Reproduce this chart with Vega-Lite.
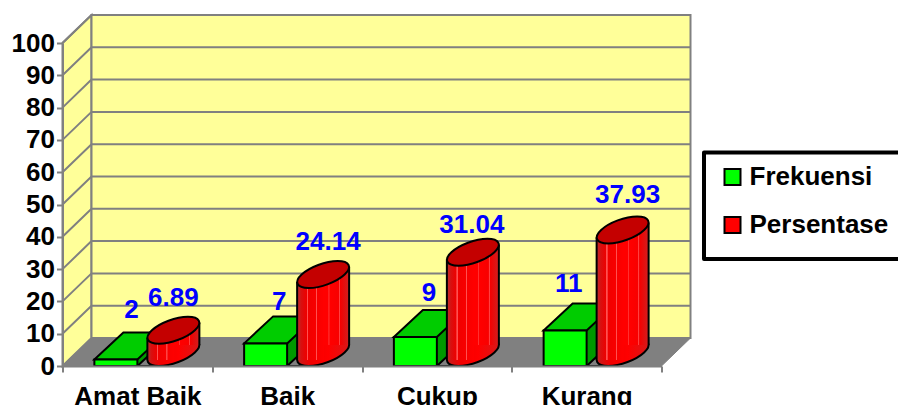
{
"$schema":"https://vega.github.io/schema/vega-lite/v6.json",
"width":599,"height":323,
"autosize":{"type":"none"},
"padding":{"left":62.5,"top":43,"right":236.5,"bottom":39},
"background":"white",
"config":{"view":{"stroke":null},"font":"Liberation Sans","text":{"font":"Liberation Sans"}},
"datasets":{
"rows":[
{"category":"Amat Baik","series":"Frekuensi","value":2},
{"category":"Baik","series":"Frekuensi","value":7},
{"category":"Cukup","series":"Frekuensi","value":9},
{"category":"Kurang","series":"Frekuensi","value":11},
{"category":"Amat Baik","series":"Persentase","value":6.89},
{"category":"Baik","series":"Persentase","value":24.14},
{"category":"Cukup","series":"Persentase","value":31.04},
{"category":"Kurang","series":"Persentase","value":37.93}
],
"ticks":[{"value":10},{"value":20},{"value":30},{"value":40},{"value":50},{"value":60},{"value":70},{"value":80},{"value":90},{"value":100}],
"base":[{"value":0}]
},
"encoding":{
"x":{"field":"category","type":"nominal","sort":null,"title":null,
 "scale":{"domain":["Amat Baik","Baik","Cukup","Kurang"],"paddingInner":0,"paddingOuter":0},
 "axis":{"labelAngle":0,"tickBand":"extent","domainColor":"#808080","domainWidth":2,"tickColor":"#808080","tickWidth":2,"tickSize":6,"labelFontSize":26,"labelFontWeight":"bold","labelColor":"black","labelFont":"Liberation Sans","labelPadding":11,"labelDx":-1,"zindex":1}},
"y":{"field":"value","type":"quantitative","title":null,
 "scale":{"domain":[0,100],"nice":false},
 "axis":{"values":[0,10,20,30,40,50,60,70,80,90,100],"grid":false,"domainColor":"#808080","domainWidth":2,"tickColor":"#808080","tickWidth":2,"tickSize":6,"labelFontSize":26,"labelFontWeight":"bold","labelColor":"black","labelFont":"Liberation Sans","labelPadding":2,"zindex":1}}
},
"layer":[
{"data":{"name":"base"},"mark":{"type":"point","shape":"M0,0 L29,-28 V-351 L0,-323 Z","size":4,"filled":true,"fill":"#ffff99","stroke":"#808080","strokeWidth":2,"opacity":1},
 "encoding":{"x":{"datum":"Amat Baik","bandPosition":0}}},
{"data":{"name":"base"},"mark":{"type":"point","shape":"M29,-28 H628 V-351 H29 Z","size":4,"filled":true,"fill":"#ffff99","stroke":"#808080","strokeWidth":2,"opacity":1},
 "encoding":{"x":{"datum":"Amat Baik","bandPosition":0}}},
{"data":{"name":"ticks"},"mark":{"type":"point","shape":"M0,0 L29,-28 H628","size":4,"filled":false,"stroke":"#808080","strokeWidth":2,"opacity":1},
 "encoding":{"x":{"datum":"Amat Baik","bandPosition":0}}},
{"data":{"name":"base"},"mark":{"type":"point","shape":"M0,0 L29,-28 H628 V-28 L599,0 Z","size":4,"filled":true,"fill":"#808080","stroke":"#808080","strokeWidth":1,"opacity":1},
 "encoding":{"x":{"datum":"Amat Baik","bandPosition":0}}},
{"data":{"name":"base"},"mark":{"type":"point","shape":"M641.5,-213.5 H860 V-107 H641.5 Z","size":4,"filled":true,"fill":"white","stroke":"black","strokeWidth":4,"strokeJoin":"round","opacity":1},
 "encoding":{"x":{"datum":"Amat Baik","bandPosition":0}}},

{"data":{"name":"rows"},"transform":[{"filter":"datum.series==='Frekuensi'"}],
 "mark":{"type":"bar","width":12,"xOffset":6,"yOffset":-27,"fill":"#009900"},
 "encoding":{"y2":{"datum":0}}},
{"data":{"name":"rows"},"transform":[{"filter":"datum.series==='Frekuensi'"}],
 "mark":{"type":"point","shape":"M0,0 L29,-27 V0 Z","size":4,"filled":true,"fill":"#808080","stroke":"black","strokeWidth":2,"opacity":1},
 "encoding":{"y":{"datum":0}}},
{"data":{"name":"rows"},"transform":[{"filter":"datum.series==='Frekuensi'"}],
 "mark":{"type":"point","shape":"M-43,0 L-14,-27 H29 L0,0 Z","size":4,"filled":true,"fill":"#00cc00","stroke":"black","strokeWidth":2,"opacity":1}},
{"data":{"name":"rows"},"transform":[{"filter":"datum.series==='Frekuensi'"}],
 "mark":{"type":"bar","width":43,"xOffset":-21.5,"stroke":"black","strokeWidth":2},
 "encoding":{"y2":{"datum":0},
  "color":{"field":"series","type":"nominal","scale":{"domain":["Frekuensi","Persentase"],"range":["#00ff00","#ff0000"]},
   "legend":{"title":null,"orient":"none","legendX":657,"legendY":121,"padding":0,"symbolType":"square","symbolSize":256,"symbolStrokeColor":"black","symbolStrokeWidth":2,"symbolOpacity":1,"labelFontSize":26,"labelFontWeight":"bold","labelColor":"black","labelFont":"Liberation Sans","labelOffset":4,"rowPadding":22,"labelLimit":300}}}},

{"data":{"name":"rows"},"transform":[{"filter":"datum.series==='Persentase'"}],
 "mark":{"type":"point","shape":"M21.5,0 C29.51,-7.46 26.37,-13.5 14.5,-13.5 C2.63,-13.5 -13.49,-7.46 -21.5,0 C-29.51,7.46 -26.37,13.5 -14.5,13.5 C-2.63,13.5 13.49,7.46 21.5,0 Z","size":4,"filled":true,"xOffset":36,"yOffset":-13.5,"stroke":"black","strokeWidth":2,"opacity":1,
  "fill":{"gradient":"linear","x1":0,"x2":1,"y1":0,"y2":0,"stops":[{"offset":0,"color":"#c02020"},{"offset":0.25,"color":"#f00000"},{"offset":0.6,"color":"#ff0000"},{"offset":1,"color":"#d81818"}]}},
 "encoding":{"y":{"datum":0}}},
{"data":{"name":"rows"},"transform":[{"filter":"datum.series==='Persentase'"}],
 "mark":{"type":"bar","width":27,"xOffset":23.5,"yOffset":-6,"y2Offset":-6,
  "fill":{"gradient":"linear","x1":0,"x2":1,"y1":0,"y2":0,"stops":[{"offset":0,"color":"#b83030"},{"offset":0.15,"color":"#d81010"},{"offset":0.35,"color":"#ee0000"},{"offset":0.36,"color":"#ff5050"},{"offset":0.4,"color":"#ff5050"},{"offset":0.41,"color":"#f00000"},{"offset":0.7,"color":"#f80000"},{"offset":0.71,"color":"#ff5050"},{"offset":0.74,"color":"#ff5050"},{"offset":0.75,"color":"#f80000"},{"offset":1,"color":"#ff0000"}]}},
 "encoding":{"y2":{"datum":0}}},
{"data":{"name":"rows"},"transform":[{"filter":"datum.series==='Persentase'"}],
 "mark":{"type":"bar","width":26,"xOffset":49,"yOffset":-21,"y2Offset":-21,
  "fill":{"gradient":"linear","x1":0,"x2":1,"y1":0,"y2":0,"stops":[{"offset":0,"color":"#ff0000"},{"offset":0.2,"color":"#ff0000"},{"offset":0.21,"color":"#ff3030"},{"offset":0.24,"color":"#ff3030"},{"offset":0.25,"color":"#ff0000"},{"offset":0.6,"color":"#f80000"},{"offset":0.61,"color":"#ff4040"},{"offset":0.64,"color":"#ff4040"},{"offset":0.65,"color":"#f40000"},{"offset":1,"color":"#d02020"}]}},
 "encoding":{"y2":{"datum":0}}},
{"data":{"name":"rows"},"transform":[{"filter":"datum.series==='Persentase'"}],
 "mark":{"type":"rule","stroke":"black","strokeWidth":2,"xOffset":10,"yOffset":-6,"y2Offset":-6},
 "encoding":{"y2":{"datum":0}}},
{"data":{"name":"rows"},"transform":[{"filter":"datum.series==='Persentase'"}],
 "mark":{"type":"rule","stroke":"black","strokeWidth":2,"xOffset":62,"yOffset":-21,"y2Offset":-21},
 "encoding":{"y2":{"datum":0}}},
{"data":{"name":"rows"},"transform":[{"filter":"datum.series==='Persentase'"}],
 "mark":{"type":"point","shape":"M21.5,0 C29.51,-7.46 26.37,-13.5 14.5,-13.5 C2.63,-13.5 -13.49,-7.46 -21.5,0 C-29.51,7.46 -26.37,13.5 -14.5,13.5 C-2.63,13.5 13.49,7.46 21.5,0 Z","size":4,"filled":true,"fill":"#c40000","xOffset":36,"yOffset":-13.5,"stroke":"black","strokeWidth":2,"opacity":1}},

{"data":{"name":"rows"},
 "encoding":{"text":{"field":"value","type":"quantitative"}},
 "layer":[
 {"transform":[{"filter":"datum.value===2 && datum.series==='Frekuensi'"}],"mark":{"type":"text","fontSize":26,"fontWeight":"bold","font":"Liberation Sans","color":"#0000ff","xOffset":-6,"yOffset":-50}},
 {"transform":[{"filter":"datum.value===7 && datum.series==='Frekuensi'"}],"mark":{"type":"text","fontSize":26,"fontWeight":"bold","font":"Liberation Sans","color":"#0000ff","xOffset":-8,"yOffset":-41}},
 {"transform":[{"filter":"datum.value===9 && datum.series==='Frekuensi'"}],"mark":{"type":"text","fontSize":26,"fontWeight":"bold","font":"Liberation Sans","color":"#0000ff","xOffset":-8,"yOffset":-44}},
 {"transform":[{"filter":"datum.value===11 && datum.series==='Frekuensi'"}],"mark":{"type":"text","fontSize":26,"fontWeight":"bold","font":"Liberation Sans","color":"#0000ff","xOffset":-18,"yOffset":-46}},
 {"transform":[{"filter":"datum.value===6.89"}],"mark":{"type":"text","fontSize":26,"fontWeight":"bold","font":"Liberation Sans","color":"#0000ff","xOffset":36,"yOffset":-46}},
 {"transform":[{"filter":"datum.value===24.14"}],"mark":{"type":"text","fontSize":26,"fontWeight":"bold","font":"Liberation Sans","color":"#0000ff","xOffset":41,"yOffset":-46}},
 {"transform":[{"filter":"datum.value===31.04"}],"mark":{"type":"text","fontSize":26,"fontWeight":"bold","font":"Liberation Sans","color":"#0000ff","xOffset":35,"yOffset":-41}},
 {"transform":[{"filter":"datum.value===37.93"}],"mark":{"type":"text","fontSize":26,"fontWeight":"bold","font":"Liberation Sans","color":"#0000ff","xOffset":41,"yOffset":-48}}
 ]}
]
}
